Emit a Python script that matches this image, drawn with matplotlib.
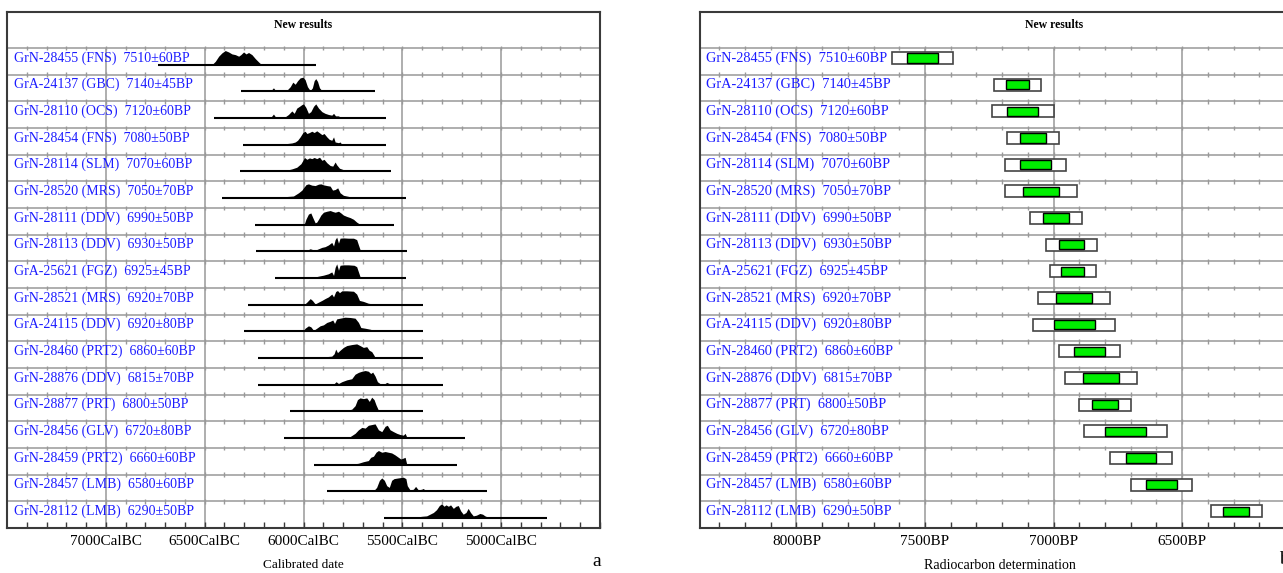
import numpy as np
import matplotlib.pyplot as plt

plt.rcParams['font.family'] = ['Liberation Serif', 'DejaVu Serif']

# samples, top to bottom
codes = ['GrN-28455', 'GrA-24137', 'GrN-28110', 'GrN-28454', 'GrN-28114', 'GrN-28520',
         'GrN-28111', 'GrN-28113', 'GrA-25621', 'GrN-28521', 'GrA-24115', 'GrN-28460',
         'GrN-28876', 'GrN-28877', 'GrN-28456', 'GrN-28459', 'GrN-28457', 'GrN-28112']
sites = ['FNS', 'GBC', 'OCS', 'FNS', 'SLM', 'MRS', 'DDV', 'DDV', 'FGZ', 'MRS', 'DDV', 'PRT2',
         'DDV', 'PRT', 'GLV', 'PRT2', 'LMB', 'LMB']
bp = [7510, 7140, 7120, 7080, 7070, 7050, 6990, 6930, 6925, 6920, 6920, 6860,
      6815, 6800, 6720, 6660, 6580, 6290]
err = [60, 45, 60, 50, 60, 70, 50, 50, 45, 70, 80, 60, 70, 50, 80, 60, 60, 50]

# calibrated plot range (cal BC) of each distribution
range_start = [6735, 6315, 6455, 6306, 6320, 6413, 6243, 6239, 6143, 6283, 6303, 6232,
               6232, 6067, 6101, 5949, 5879, 5591]
range_end = [5938, 5638, 5582, 5582, 5559, 5483, 5542, 5475, 5481, 5394, 5394, 5394,
             5296, 5397, 5183, 5225, 5074, 4766]

# calibrated probability outlines (cal BC, relative height)
cal_years = [
    [6463, 6446, 6429, 6413, 6396, 6379, 6362, 6345, 6328, 6317, 6303, 6291, 6278, 6261, 6244, 6227, 6216, 6202],
    [6168, 6152, 6138, 6101, 6084, 6067, 6054, 6042, 6030, 6017, 6003, 5992, 5980, 5966, 5955, 5946, 5938, 5929, 5919, 5907, 5882, 5815, 5798],
    [6168, 6152, 6138, 6109, 6093, 6076, 6059, 6047, 6034, 6020, 6008, 6000, 5988, 5975, 5963, 5949, 5938, 5924, 5907, 5891, 5874, 5857, 5848, 5838, 5823, 5811, 5790],
    [6160, 6101, 6059, 6042, 6030, 6017, 6003, 5992, 5983, 5970, 5958, 5946, 5933, 5921, 5907, 5896, 5882, 5870, 5857, 5848, 5840, 5823, 5815, 5806, 5781],
    [6152, 6101, 6059, 6034, 6013, 6003, 5995, 5983, 5970, 5958, 5946, 5933, 5919, 5907, 5896, 5882, 5865, 5852, 5840, 5832, 5818, 5798, 5781, 5747],
    [6185, 6051, 6025, 6008, 6000, 5987, 5975, 5958, 5941, 5924, 5912, 5899, 5882, 5865, 5853, 5840, 5827, 5815, 5798, 5764, 5731, 5697],
    [5997, 5988, 5975, 5963, 5953, 5941, 5933, 5924, 5912, 5899, 5882, 5865, 5852, 5840, 5823, 5811, 5798, 5781, 5764, 5747, 5731, 5717, 5697],
    [6000, 5983, 5966, 5955, 5941, 5924, 5907, 5891, 5874, 5857, 5848, 5840, 5832, 5823, 5815, 5798, 5773, 5747, 5731, 5722, 5714, 5697, 5672, 5646],
    [5992, 5966, 5949, 5924, 5899, 5874, 5857, 5848, 5840, 5832, 5823, 5815, 5798, 5773, 5744, 5731, 5722, 5714, 5697, 5663],
    [5997, 5983, 5966, 5955, 5941, 5924, 5907, 5891, 5874, 5857, 5848, 5837, 5828, 5818, 5806, 5781, 5747, 5731, 5717, 5697, 5672, 5646, 5621],
    [6003, 5992, 5975, 5963, 5949, 5933, 5916, 5899, 5882, 5865, 5852, 5843, 5832, 5815, 5790, 5764, 5739, 5722, 5710, 5688, 5663, 5630, 5613],
    [6000, 5983, 5949, 5899, 5857, 5845, 5837, 5828, 5815, 5798, 5781, 5756, 5731, 5714, 5697, 5680, 5668, 5655, 5646, 5638, 5596, 5571],
    [5865, 5848, 5835, 5823, 5806, 5781, 5756, 5739, 5722, 5705, 5688, 5672, 5660, 5650, 5638, 5626, 5613, 5596, 5579, 5566, 5554],
    [5848, 5790, 5756, 5739, 5727, 5714, 5697, 5680, 5667, 5655, 5643, 5633, 5621, 5596, 5576, 5562, 5545],
    [5848, 5815, 5764, 5739, 5722, 5705, 5688, 5672, 5655, 5638, 5621, 5604, 5587, 5576, 5562, 5545, 5528, 5512, 5495, 5486, 5478, 5461],
    [5798, 5764, 5722, 5697, 5672, 5660, 5646, 5633, 5621, 5604, 5587, 5571, 5554, 5537, 5520, 5508, 5498, 5486, 5478, 5461],
    [5663, 5646, 5630, 5616, 5604, 5591, 5579, 5566, 5554, 5542, 5520, 5495, 5482, 5475, 5461, 5444, 5433, 5419, 5402, 5394, 5380, 5360],
    [5478, 5461, 5428, 5402, 5377, 5360, 5343, 5327, 5313, 5301, 5289, 5279, 5267, 5256, 5242, 5229, 5217, 5205, 5192, 5178, 5167, 5155, 5141, 5125, 5108, 5094, 5082, 5065, 5040],
]
cal_probs = [
    [0, .24, .6, .83, 1.0, .9, .76, .71, .6, .71, .9, .76, .86, .71, .43, .19, .05, 0],
    [0, .25, 0, .02, .08, .33, .65, .5, .75, .95, 1.0, .83, .33, .05, .25, .75, .9, .7, .25, .05, .02, .01, 0],
    [0, .28, 0, .02, .08, .25, .5, .33, .7, .83, .95, 1.0, .75, .33, .45, .83, 1.0, .7, .45, .33, .25, .2, .33, .15, .15, .03, 0],
    [0, .05, .12, .19, .31, .55, .86, .95, .79, .86, .95, .86, .98, .86, .71, .79, .55, .38, .31, .55, .19, .14, .19, .02, 0],
    [0, .03, .17, .29, .54, .78, .98, .85, .95, .9, .98, .9, 1.0, .78, .85, .61, .41, .37, .66, .46, .22, .12, .05, 0],
    [0, .14, .37, .56, .72, .95, 1.0, .91, .88, .98, 1.0, .93, .88, .84, .56, .6, .72, .37, .19, .09, .02, 0],
    [0, .38, .75, .83, .5, .13, .18, .38, .68, .88, .95, 1.0, .93, .88, .95, .83, .68, .58, .5, .38, .18, .05, 0],
    [0, .08, .18, .13, .08, .18, .28, .33, .45, .63, .38, .83, 1.0, .58, .93, .95, .93, .93, .83, .45, .13, .08, .05, 0],
    [0, .1, .05, .13, .2, .3, .43, .18, .75, 1.0, .55, .9, .93, .93, .9, .8, .43, .1, .05, 0],
    [0, .18, .43, .3, .05, .18, .3, .43, .55, .75, .55, .93, 1.0, .85, .98, .98, .95, .75, .3, .23, .1, .05, 0],
    [0, .22, .39, .32, .07, .22, .39, .46, .63, .71, .8, .56, .88, .93, 1.0, .98, .93, .63, .27, .22, .15, .02, 0],
    [0, .05, .1, .08, .13, .3, .63, .38, .55, .75, .88, .95, 1.0, .88, .75, .8, .55, .45, .25, .05, .05, 0],
    [0, .03, .21, .08, .21, .34, .42, .74, .87, .95, 1.0, .95, .79, .89, .61, .21, .08, 0, .16, .08, 0],
    [0, .05, .15, .4, .83, .95, .9, .95, .7, 1.0, .83, .45, .08, 0, .13, .03, 0],
    [0, .05, .1, .33, .58, .75, .7, .9, .95, 1.0, .58, .45, .83, .9, .58, .45, .33, .25, .2, .33, .08, 0],
    [0, .02, .1, .21, .29, .52, .6, .88, 1.0, .88, .93, .88, .83, .69, .52, .4, .45, .52, .05, 0],
    [0, .03, .28, .78, .95, .78, .4, .28, .78, .9, .95, 1.0, .9, .4, .1, .15, .35, .1, .15, .2, .03, 0],
    [0, .1, .07, .12, .15, .27, .39, .59, .88, 1.0, .83, .93, .83, .93, .68, .83, .88, .51, .27, .39, .68, .39, .15, .2, .32, .27, .15, .05, 0],
]

cal_major = [7000, 6500, 6000, 5500, 5000]
bp_major = [8000, 7500, 7000, 6500]

labels = [f'{c} ({s})  {v}\u00b1{e}BP' for c, s, v, e in zip(codes, sites, bp, err)]
n = len(labels)
rows = np.arange(n)

W, H = 1283, 573
fig = plt.figure(figsize=(W / 100, H / 100), dpi=100)

grid_c = '#999999'
frame_c = '#3a3a3a'
label_c = '#1c1cff'


def px_axes(x0, y0, x1, y1):
    return fig.add_axes([x0 / W, 1 - y1 / H, (x1 - x0) / W, (y1 - y0) / H])


def setup(ax, xlim, major, unit, xlabel, xlabel_size):
    ax.set_xlim(*xlim)
    ax.set_ylim(n, -1.35)
    ax.set_yticks([])
    lo, hi = min(xlim), max(xlim)
    minor = np.arange(np.ceil(lo / 100) * 100, hi, 100)
    ax.set_xticks(major)
    ax.set_xticklabels([f'{v}{unit}' for v in major], fontsize=11)
    ax.set_xticks(minor, minor=True)
    ax.tick_params(axis='x', which='both', direction='in', length=4, width=1,
                   color=frame_c, pad=5)
    for s in ax.spines.values():
        s.set_color(frame_c)
        s.set_linewidth(1.5)
    ax.vlines(major, 0, n, color=grid_c, lw=1.1, zorder=1)
    ax.hlines(rows, lo, hi, color=grid_c, lw=1.1, zorder=1)
    # small crosses along each row line
    tx = np.tile(minor, n)
    ty = np.repeat(rows, len(minor))
    ax.vlines(tx, ty - 0.09, ty + 0.09, color=grid_c, lw=1, zorder=1)
    ax.set_xlabel(xlabel, fontsize=xlabel_size, labelpad=8)


# left: calibrated dates
ax1 = px_axes(7, 12, 600, 528)
setup(ax1, (7500, 4500), cal_major, 'CalBC', 'Calibrated date', 9.5)
ax1.text(6000, -0.86, 'New results', ha='center', va='center', fontsize=8.5, fontweight='bold')
for i in range(n):
    base = i + 0.625
    ax1.fill_between(cal_years[i], base, base - 0.53 * np.array(cal_probs[i]),
                     color='black', lw=0, zorder=3)
    ax1.hlines(base, range_start[i], range_end[i], color='black', lw=1.5, zorder=3)
    ax1.text(0.012, i + 0.375, labels[i], transform=ax1.get_yaxis_transform(),
             color=label_c, fontsize=10, ha='left', va='center', zorder=5)

# right: radiocarbon determinations
ax2 = px_axes(700, 12, 1300, 528)
setup(ax2, (8375, 6042), bp_major, 'BP', 'Radiocarbon determination', 10)
ax2.text(7000, -0.86, 'New results', ha='center', va='center', fontsize=8.5, fontweight='bold')
bp_a = np.array(bp)
err_a = np.array(err)
ax2.barh(rows + 0.375, 4 * err_a, left=bp_a - 2 * err_a, height=0.46,
         color='white', edgecolor='#444444', lw=1.2, zorder=3)
ax2.barh(rows + 0.375, 2 * err_a, left=bp_a - err_a, height=0.34,
         color='#00ee00', edgecolor='black', lw=1, zorder=4)
for i in range(n):
    ax2.text(0.01, i + 0.375, labels[i], transform=ax2.get_yaxis_transform(),
             color=label_c, fontsize=10.4, ha='left', va='center', zorder=5)

fig.text(597 / W, 1 - 561 / H, 'a', fontsize=14, ha='center', va='center')
fig.text(1279 / W, 1 - 559 / H, 'b', fontsize=14, ha='left', va='center')

fig.savefig('out.png', dpi=100)
